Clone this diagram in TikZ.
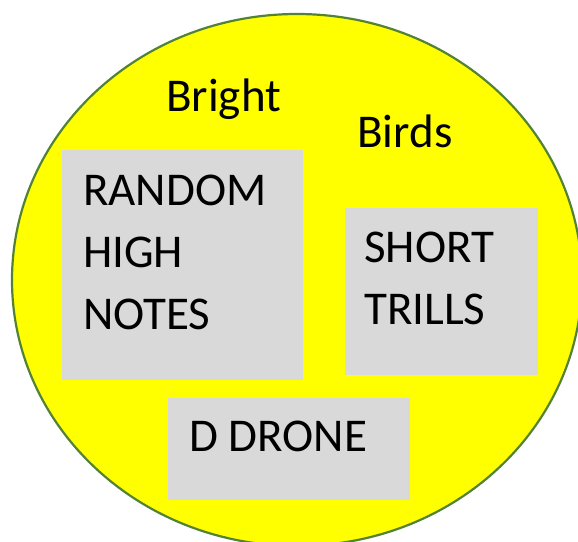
\documentclass[tikz,border=0pt]{standalone}
\usepackage{fontspec}
\setmainfont{Carlito}
\usetikzlibrary{positioning}
\definecolor{birdyellow}{HTML}{FFFF00}
\definecolor{birdgreen}{HTML}{548235}
\definecolor{boxgray}{HTML}{D9D9D9}

\begin{document}
\begin{tikzpicture}[x=1pt, y=-1pt, every node/.style={inner sep=0pt, font=\fontsize{47}{62}\selectfont}, notebox/.style={rectangle, fill=boxgray, anchor=north west}, wordtext/.style={anchor=north west, align=left}]

    \useasboundingbox (0,0) rectangle (578,541);
    \clip (0,0) rectangle (578,541);
    \draw[birdgreen, line width=2.2pt, fill=birdyellow] (297,280) ellipse [x radius=285pt, y radius=266pt];

    \node[anchor=base west] (bright) at (166,111) {Bright};
    \node[anchor=base west] (birds) at (357,147) {Birds};

    \node[notebox, minimum width=241pt, minimum height=230pt] (randombox) at (62,150) {};
    \node[notebox, minimum width=193pt, minimum height=167pt] (shortbox) at (345,208) {};
    \node[notebox, minimum width=242pt, minimum height=102pt] (dronebox) at (168,398) {};

    \node[wordtext] (randomtxt) at ([shift={(21,25)}]randombox.north west) {RANDOM\\HIGH\\NOTES};
    \node[wordtext] (shorttxt) at ([shift={(19,24)}]shortbox.north west) {SHORT\\TRILLS};
    \node[wordtext] (dronetxt) at ([shift={(21,23)}]dronebox.north west) {D DRONE};

    %\draw[red] (0,0) grid[step=50] (578,541);
  \end{tikzpicture}
\end{document}
